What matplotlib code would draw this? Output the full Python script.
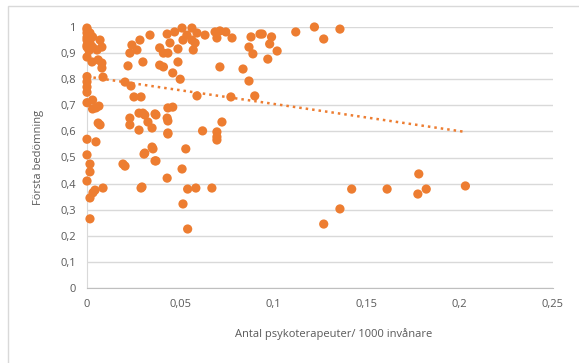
import numpy as np
import matplotlib
matplotlib.use("Agg")
import matplotlib.pyplot as plt
from matplotlib.patches import Rectangle

# psykoterapeuter per 1000 invanare vs forsta bedomning
x_vals = [
    0.0, 0.0, 0.0, 0.0, 0.0, 0.0016, 0.0016, 0.003, 0.003, 0.007, 0.008, 0.0054,
    0.0027, 0.006, 0.008, 0.008, 0.0086, 0.0, 0.0, 0.0, 0.0, 0.0, 0.003, 0.0064,
    0.0048, 0.003, 0.006, 0.007, 0.0, 0.0048, 0.0, 0.0016, 0.0016, 0.0, 0.0016,
    0.0032, 0.0043, 0.0086, 0.0016, 0.0, 0.0, 0.0, 0.0011,
    0.0193, 0.0204, 0.029, 0.0306, 0.0354, 0.037, 0.043, 0.051, 0.0515, 0.053,
    0.054, 0.054, 0.0584, 0.067, 0.0697,
    0.0338, 0.0241, 0.0284, 0.0268, 0.023, 0.030, 0.022, 0.0204, 0.0236, 0.0252,
    0.029, 0.023, 0.023, 0.0279, 0.031, 0.0279, 0.0327, 0.0349, 0.037, 0.0349,
    0.043, 0.047, 0.051, 0.0563, 0.0536, 0.0515, 0.0563, 0.059, 0.0633, 0.058,
    0.057, 0.0488, 0.0445, 0.039, 0.041, 0.0434, 0.039, 0.041, 0.0488, 0.046,
    0.050, 0.059, 0.0434, 0.046, 0.043, 0.0434, 0.062, 0.0724, 0.0697, 0.0697,
    0.0687, 0.0713, 0.0745, 0.0778, 0.0697, 0.0713, 0.0772, 0.030, 0.0365,
    0.0434, 0.0434, 0.031, 0.0295, 0.0365,
    0.0837, 0.0869, 0.090, 0.0869, 0.089, 0.088, 0.0928, 0.094, 0.099, 0.098,
    0.097, 0.102, 0.112, 0.122, 0.127, 0.1357,
    0.142, 0.1357, 0.127, 0.161, 0.178, 0.1775, 0.182, 0.203,
]
y_vals = [
    0.996, 0.977, 0.95, 0.923, 0.885, 0.977, 0.939, 0.923, 0.962, 0.95, 0.923, 0.912,
    0.866, 0.874, 0.862, 0.843, 0.808, 0.81, 0.79, 0.77, 0.75, 0.71, 0.72, 0.697,
    0.69, 0.686, 0.632, 0.625, 0.57, 0.56, 0.51, 0.475, 0.445, 0.41, 0.345,
    0.365, 0.375, 0.383, 0.265, 0.99, 0.96, 0.93, 0.91,
    0.475, 0.467, 0.383, 0.513, 0.533, 0.487, 0.421, 0.456, 0.322, 0.533,
    0.379, 0.226, 0.383, 0.383, 0.567,
    0.969, 0.931, 0.95, 0.912, 0.9, 0.866, 0.851, 0.789, 0.774, 0.732,
    0.732, 0.651, 0.625, 0.67, 0.663, 0.605, 0.636, 0.613, 0.663, 0.54,
    0.973, 0.981, 0.996, 0.996, 0.969, 0.95, 0.95, 0.977, 0.969, 0.939,
    0.912, 0.916, 0.939, 0.92, 0.9, 0.9, 0.854, 0.847, 0.866, 0.824,
    0.80, 0.736, 0.69, 0.693, 0.651, 0.594, 0.602, 0.636, 0.598, 0.579,
    0.981, 0.985, 0.981, 0.958, 0.958, 0.847, 0.732, 0.67, 0.667,
    0.64, 0.59, 0.517, 0.387, 0.487,
    0.839, 0.793, 0.736, 0.923, 0.897, 0.962, 0.973, 0.973, 0.962, 0.935,
    0.877, 0.908, 0.981, 1.0, 0.954, 0.992,
    0.379, 0.303, 0.245, 0.379, 0.437, 0.36, 0.379, 0.391,
]

trend_intercept = 0.81
trend_slope = -1.045

x_ticks = [0, 0.05, 0.1, 0.15, 0.2, 0.25]
y_ticks = [0, 0.1, 0.2, 0.3, 0.4, 0.5, 0.6, 0.7, 0.8, 0.9, 1.0]

orange = "#ED7D31"
grid = "#D9D9D9"
txt = "#595959"

plt.rcParams['font.family'] = ['Open Sans', 'DejaVu Sans']

fig = plt.figure(figsize=(5.79, 3.63), dpi=100)
ax = fig.add_axes([87 / 579, 1 - 288 / 363, 466 / 579, 261 / 363])

ax.scatter(x_vals, y_vals, s=44, color=orange, edgecolors="none", zorder=3, clip_on=False)

tx = np.array([0, max(x_vals)])
ax.plot(tx, trend_intercept + trend_slope * tx, color=orange, lw=1.8,
        linestyle=(0, (1, 1.6)), dash_capstyle="butt", zorder=2)

ax.set_xlim(0, 0.25)
ax.set_ylim(0, 1)
ax.set_xticks(x_ticks)
ax.set_yticks(y_ticks)
ax.set_xticklabels([("%g" % t).replace(".", ",") for t in x_ticks])
ax.set_yticklabels([("%g" % t).replace(".", ",") for t in y_ticks])
ax.tick_params(length=0, labelsize=8, colors=txt, pad=8)
ax.grid(axis="y", color=grid, lw=1)
ax.set_axisbelow(True)
for s in ["top", "right"]:
    ax.spines[s].set_visible(False)
ax.spines["left"].set_color(grid)
ax.spines["bottom"].set_color("#BFBFBF")

ax.set_xlabel("Antal psykoterapeuter/ 1000 invånare", fontsize=8, color=txt)
ax.xaxis.set_label_coords(0.53, -0.153)
ax.set_ylabel("Första bedömning", fontsize=8, color=txt, labelpad=12)

# chart area frame (cropped at right and bottom)
fig.patches.append(Rectangle((8 / 579, -0.1), 1.2, 1 - 6 / 363 + 0.1, transform=fig.transFigure,
                             fill=False, edgecolor=grid, lw=1))

fig.savefig("out.png", dpi=100)
